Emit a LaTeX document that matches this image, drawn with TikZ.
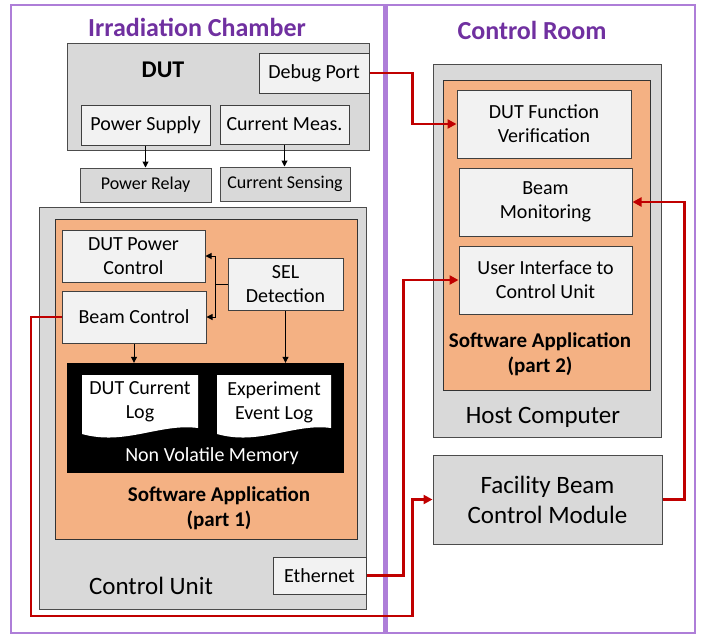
\documentclass[tikz,border=0pt]{standalone}
\usepackage{fontspec}
\setmainfont{Carlito}
\usetikzlibrary{calc,arrows.meta}
\definecolor{boxgray}{HTML}{D9D9D9}
\definecolor{boxlight}{HTML}{F2F2F2}
\definecolor{swapp}{HTML}{F4B183}
\definecolor{linkred}{HTML}{C00000}
\definecolor{roomtitle}{HTML}{7030A0}
\definecolor{roomline}{HTML}{AE7ED8}
\tikzset{
  graybox/.style={draw=black!70,line width=1pt,fill=boxgray,inner sep=0pt,align=center},
  lightbox/.style={draw=black!75,line width=1pt,fill=boxlight,inner sep=0pt,align=center,
    font=\fontsize{20}{24}\selectfont},
  swbox/.style={draw=black!80,line width=1pt,fill=swapp,inner sep=0pt},
  roomtitle/.style={text=roomtitle,font=\bfseries\fontsize{26}{30}\selectfont},
  bigtext/.style={font=\fontsize{25}{30}\selectfont,align=center},
  swtext/.style={font=\bfseries\fontsize{21}{25}\selectfont,align=center},
  blkarrow/.style={line width=1pt,-{Triangle[length=6pt,width=6pt]}},
  redlink/.style={draw=linkred,line width=2.5pt,-{Triangle[length=9pt,width=9pt]}}
}
\begin{document}
\begin{tikzpicture}[x=1pt,y=-1pt]
    \useasboundingbox (0,0) rectangle (703,635);
    \draw[roomline,line width=1.5pt](11,5) rectangle (695,633);
    \draw[roomline,line width=5pt](385.5,5)--(385.5,633);
    \node[roomtitle] (irr) at (197,27) {Irradiation Chamber};
    \node[roomtitle] (ctrl) at (532,30) {Control Room};

    \begin{scope}[shift={(0,0)}]
      \node[graybox,minimum width=302pt,minimum height=107pt] (dut) at (218,96.5) {};
      \node[font=\bfseries\fontsize{24}{28}\selectfont] (dutlbl) at (163,70) {DUT};
      \node[lightbox,minimum width=110pt,minimum height=40pt] (dbg) at (314,73) {Debug Port};
      \node[lightbox,minimum width=129pt,minimum height=40pt] (ps) at (145.5,125) {Power Supply};
      \node[lightbox,minimum width=129pt,minimum height=39pt] (cm) at (284.5,124.5) {Current Meas.};
      \node[graybox,font=\fontsize{18}{22}\selectfont,minimum width=131pt,minimum height=34pt] (pr) at (145.5,185) {Power Relay};
      \node[graybox,font=\fontsize{18}{22}\selectfont,minimum width=130pt,minimum height=34pt] (cs) at (285,184) {Current Sensing};
      \draw[blkarrow](ps.south)--(ps.south |- pr.north);
      \draw[blkarrow](cm.south)--(cm.south |- cs.north);

      \node[graybox,minimum width=327pt,minimum height=402pt] (cu) at (202.5,408) {};
      \node[swbox,minimum width=302pt,minimum height=320pt] (sw1) at (206,379) {};
      \node[lightbox,minimum width=143pt,minimum height=52pt] (dpc) at (133.5,256) {DUT Power\\Control};
      \node[lightbox,minimum width=144pt,minimum height=52pt] (bc) at (134,317) {Beam Control};
      \node[lightbox,minimum width=115pt,minimum height=52pt] (sel) at (285.5,284) {SEL\\Detection};
      \node[fill=black,inner sep=0pt,minimum width=277pt,minimum height=110pt] (mem) at (205.5,418) {};
      \fill[white](82,375)--(198,375)--(198,428) .. controls (160,423) and (125,446) .. (82,434)--cycle;
      \fill[white](217,375)--(331,375)--(331,428) .. controls (294,423) and (259,446) .. (217,434)--cycle;
      \node[align=center,font=\fontsize{20}{24}\selectfont] (curlog) at (140,402) {DUT Current\\Log};
      \node[align=center,font=\fontsize{20}{24}\selectfont] (evlog) at (274,402) {Experiment\\Event Log};
      \node[text=white,font=\fontsize{20}{24}\selectfont] (nvm) at (212,456) {Non Volatile Memory};
      \node[swtext] (sw1lbl) at (219,508) {Software Application\\(part 1)};
      \node[bigtext] (culbl) at (151,586) {Control Unit};
      \node[lightbox,minimum width=93pt,minimum height=37pt] (eth) at (319.5,575.5) {Ethernet};
      \draw[blkarrow](sel.west)--++(-12,0) coordinate (seljoin) |- (dpc.east);
      \draw[blkarrow](seljoin) |- (bc.east);
      \draw[blkarrow](bc.south)--(bc.south |- mem.north);
      \draw[blkarrow](sel.south)--(sel.south |- mem.north);
    \end{scope}

    \begin{scope}[shift={(0,0)}]
      \node[graybox,minimum width=228pt,minimum height=373pt] (host) at (547,250.5) {};
      \node[swbox,minimum width=207pt,minimum height=310pt] (sw2) at (546.5,235) {};
      \node[lightbox,minimum width=174pt,minimum height=68pt] (dfv) at (544,124) {DUT Function\\Verification};
      \node[lightbox,minimum width=173pt,minimum height=68pt] (bm) at (545.5,202) {Beam\\Monitoring};
      \node[lightbox,minimum width=173pt,minimum height=68pt] (ui) at (545.5,280) {User Interface to\\Control Unit};
      \node[swtext] (sw2lbl) at (540,354) {Software Application\\(part 2)};
      \node[bigtext] (hostlbl) at (543,417) {Host Computer};
      \node[graybox,font=\fontsize{25}{30}\selectfont,minimum width=229pt,minimum height=89pt] (fac) at (547.5,499.5) {Facility Beam\\Control Module};
    \end{scope}

    \coordinate (culoop) at (31,616);
    \draw[redlink](dbg.east) -| ($(dfv.west)+(-44,0)$)--(dfv.west);
    \draw[redlink](bc.west) -| (culoop) -| ($(fac.west)+(-20,0)$)--(fac.west);
    \draw[redlink](eth.east) -| ($(ui.west)+(-55,0)$)--(ui.west);
    \draw[redlink](fac.east) -| ($(bm.east)+(52,0)$)--(bm.east);
\end{tikzpicture}
\end{document}
